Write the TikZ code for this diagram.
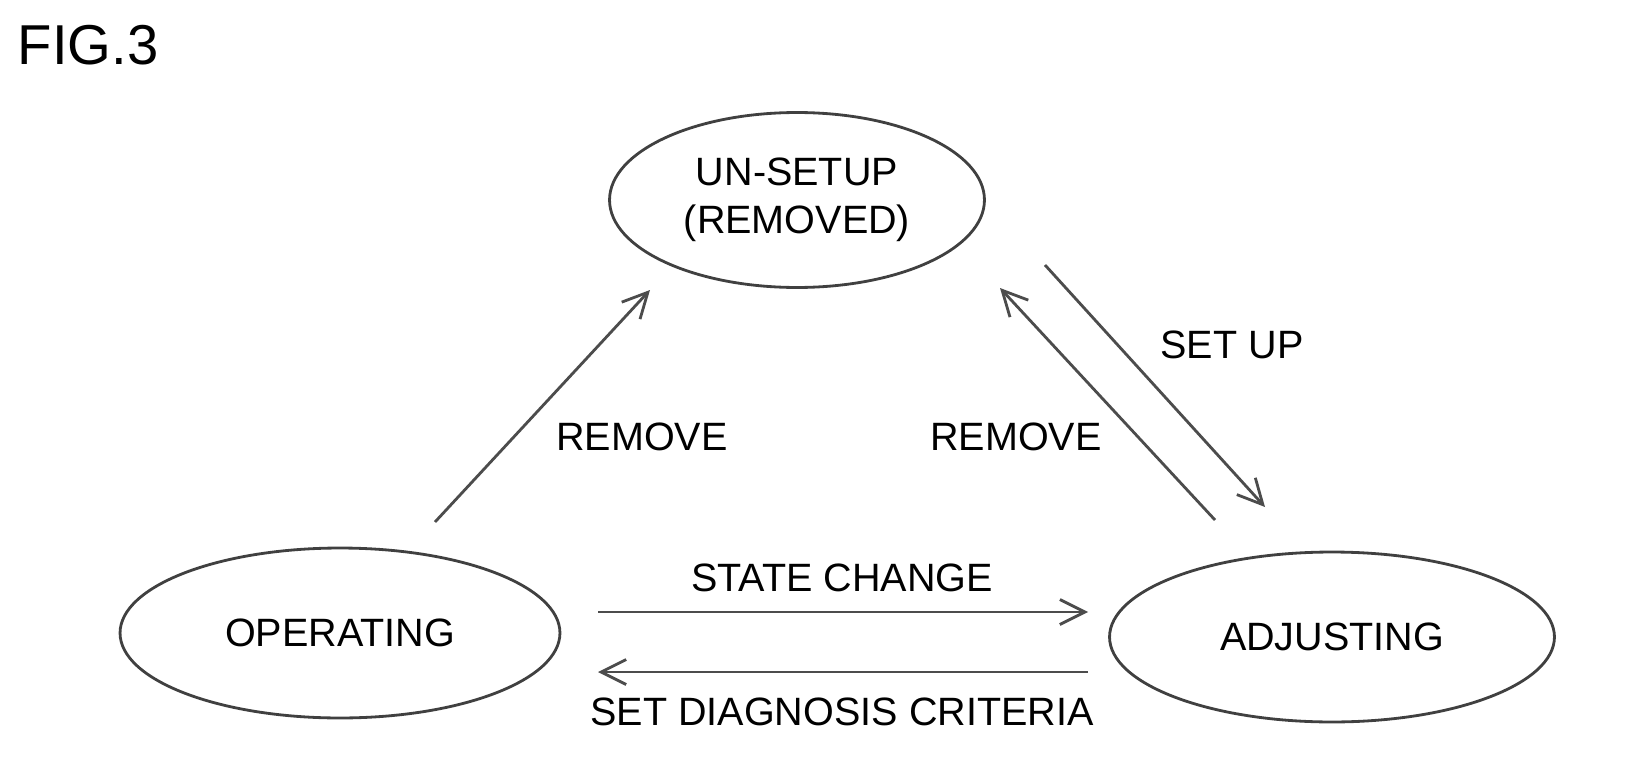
\documentclass[tikz,border=0pt]{standalone}
\usepackage{fontspec}
\setmainfont{Liberation Sans}
\usetikzlibrary{shapes.geometric,arrows.meta}
\begin{document}
\begin{tikzpicture}[x=0.02cm,y=-0.02cm,
        state/.style={ellipse,draw=black!75,line width=1.6pt,minimum width=#1,minimum height=3.4cm,font=\fontsize{22.5}{27}\selectfont,align=center},
        trans/.style={draw=black!70,line width=1.6pt,-{Straight Barb[length=5mm,width=5mm,line width=1.6pt]}},
        lbl/.style={font=\fontsize{22.5}{27}\selectfont},
    ]
    \useasboundingbox (0,0) rectangle (1643,784);
    \node[font=\fontsize{32}{36}\selectfont] (fig) at (88,45) {FIG.3};
    \node[state=7.5cm,minimum height=3.5cm] (unsetup) at (797,200) {UN-SETUP\\(REMOVED)};
    \node[state=8.8cm] (oper) at (340,633) {OPERATING};
    \node[state=8.9cm] (adj) at (1332,637) {ADJUSTING};
    % connector ends
    \coordinate (o1) at (435,522);
    \coordinate (u1) at (650,290);
    \coordinate (a1) at (1215,520);
    \coordinate (u2) at (1000,288);
    \coordinate (u3) at (1045,265);
    \coordinate (a2) at (1265,507);
    \coordinate (o2) at (598,612);
    \coordinate (a3) at (1088,612);
    \coordinate (a4) at (1088,672);
    \coordinate (o3) at (598,672);
    \draw[trans] (o1) -- (u1);
    \draw[trans] (a1) -- (u2);
    \draw[trans] (u3) -- (a2);
    \draw[trans] (o2) -- (a3);
    \draw[trans] (a4) -- (o3);
    \node[lbl] (rm1) at (642,437) {REMOVE};
    \node[lbl] (rm2) at (1016,437) {REMOVE};
    \node[lbl] (su) at (1232,345) {SET UP};
    \node[lbl] (sc) at (842,578) {STATE CHANGE};
    \node[lbl] (sd) at (842,712) {SET DIAGNOSIS CRITERIA};
\end{tikzpicture}
\end{document}
